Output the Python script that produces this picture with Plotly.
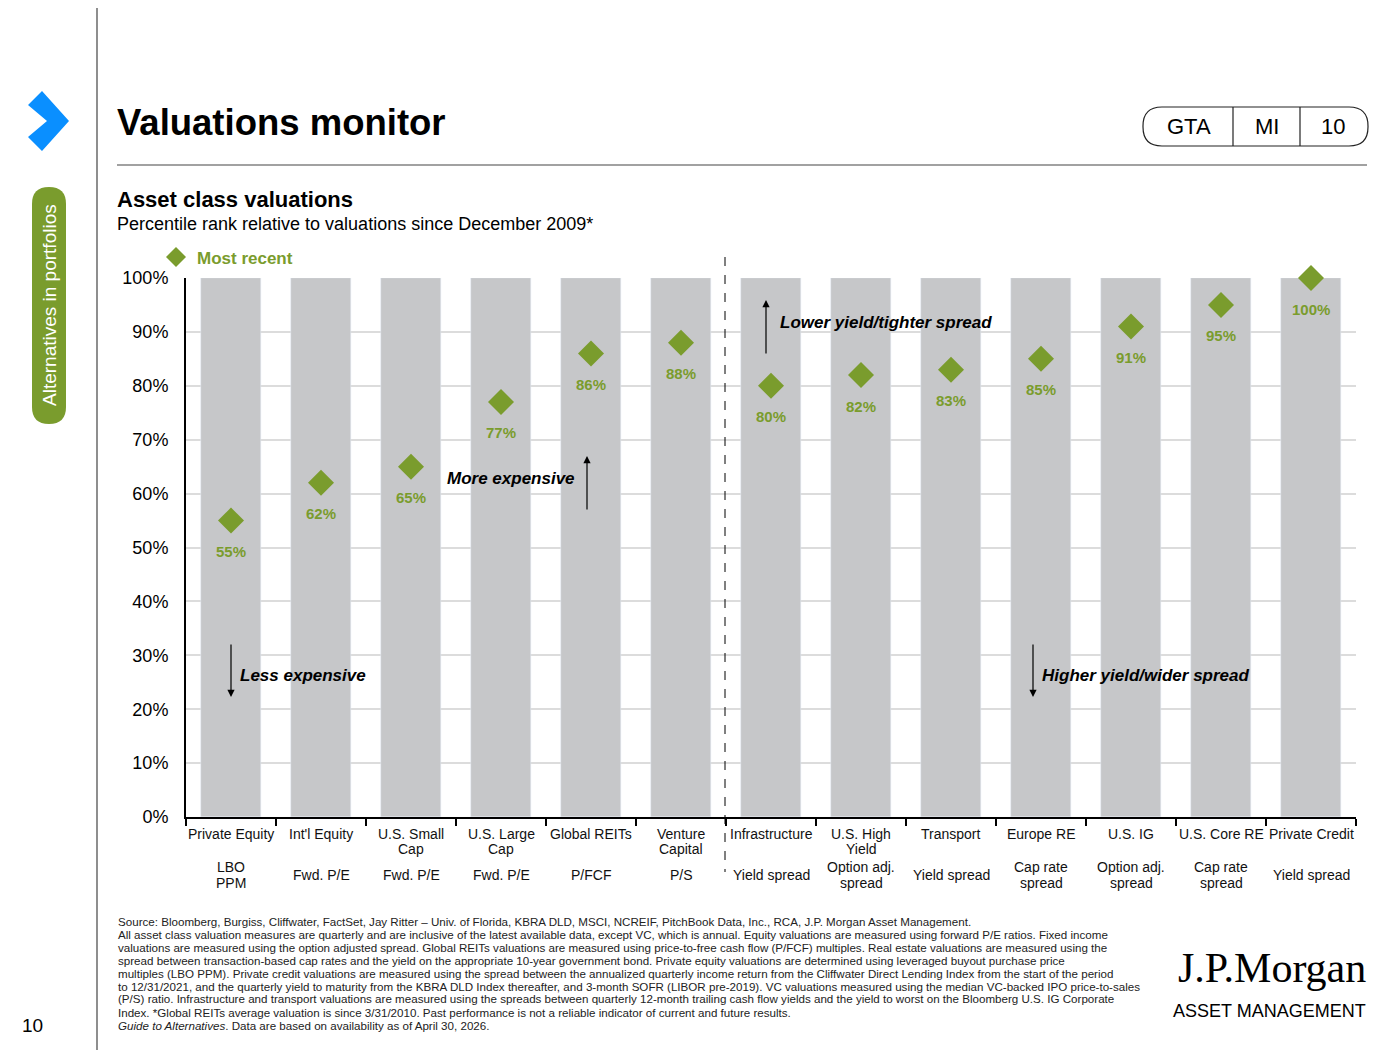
import plotly.graph_objects as go

categories = ["Private Equity", "Int'l Equity", "U.S. Small<br>Cap", "U.S. Large<br>Cap", "Global REITs",
              "Venture<br>Capital", "Infrastructure", "U.S. High<br>Yield", "Transport", "Europe RE",
              "U.S. IG", "U.S. Core RE", "Private Credit"]
measures = ["LBO<br>PPM", "Fwd. P/E", "Fwd. P/E", "Fwd. P/E", "P/FCF", "P/S", "Yield spread",
            "Option adj.<br>spread", "Yield spread", "Cap rate<br>spread", "Option adj.<br>spread",
            "Cap rate<br>spread", "Yield spread"]
most_recent = [55, 62, 65, 77, 86, 88, 80, 82, 83, 85, 91, 95, 100]
y_ticks = [0, 10, 20, 30, 40, 50, 60, 70, 80, 90, 100]

GREEN = "#7a9c2d"
GRAY = "#c6c7c9"
FONT = "Liberation Sans, Arial, sans-serif"

# pixel -> paper helpers (plot area 186..1356 x, 278..817 y on screen)
def px(x):
    return (x - 186) / 1170

def py(y):
    return (817 - y) / 539

x = list(range(len(categories)))
fig = go.Figure()
fig.add_trace(go.Bar(x=x, y=[100] * len(x), marker_color=GRAY, width=60 / 90, hoverinfo="skip"))
fig.add_trace(go.Scatter(
    x=x, y=most_recent, mode="markers",
    marker=dict(symbol="diamond", size=20, color=GREEN), cliponaxis=False))

annotations = []
shapes = []

def line_txt(i, text, ycen):
    annotations.append(dict(x=i, y=py(ycen), xref="x", yref="paper", text=text, showarrow=False,
                            yanchor="middle", font=dict(size=14, color="#111")))

for i, (c, m, v) in enumerate(zip(categories, measures, most_recent)):
    annotations.append(dict(x=i, y=v, yref="y", xref="x", text=f"<b>{v}%</b>", showarrow=False,
                            yshift=-31, font=dict(size=15, color=GREEN)))
    for k, part in enumerate(c.split("<br>")):
        line_txt(i, part, 834 + 15 * k)
    parts = m.split("<br>")
    if len(parts) == 1:
        line_txt(i, parts[0], 875)
    else:
        line_txt(i, parts[0], 867)
        line_txt(i, parts[1], 883)

# directional arrows
def arrow(xh, yh, xt, yt):
    annotations.append(dict(x=px(xh), y=py(yh), ax=xt - xh, ay=yt - yh, xref="paper", yref="paper",
                            axref="pixel", ayref="pixel", text="", showarrow=True, arrowhead=2,
                            arrowsize=1.2, arrowwidth=1.2, arrowcolor="black"))

arrow(231, 697, 231, 643)
arrow(587, 456, 587, 511)
arrow(766, 300, 766, 355)
arrow(1033, 697, 1033, 643)

def itxt(text, x0, y0):
    annotations.append(dict(x=px(x0), y=py(y0), xref="paper", yref="paper", text=f"<b><i>{text}</i></b>",
                            showarrow=False, xanchor="left", font=dict(size=17, color="black")))

itxt("Less expensive", 238, 687)
itxt("More expensive", 445, 478)
itxt("Lower yield/tighter spread", 778, 311)
itxt("Higher yield/wider spread", 1040, 687)

shapes.append(dict(type="line", xref="paper", yref="paper", x0=px(725), x1=px(725), y0=py(257), y1=py(872),
                   line=dict(color="black", width=1, dash="dash")))

# page chrome
def ptxt(text, x0, y0, size, color="black", xanchor="left", yanchor="middle", family=FONT, **kw):
    annotations.append(dict(x=px(x0), y=py(y0), xref="paper", yref="paper", text=text, showarrow=False,
                            xanchor=xanchor, yanchor=yanchor, font=dict(size=size, color=color, family=family), **kw))

def poly(xs, ys, color):
    p = "M " + " L ".join(f"{px(a)},{py(b)}" for a, b in zip(xs, ys)) + " Z"
    shapes.append(dict(type="path", xref="paper", yref="paper", path=p, fillcolor=color, line_width=0))

ptxt("<b>Valuations monitor</b>", 115, 122, 36.5)
ptxt("<b>Asset class valuations</b>", 115, 199, 22)
ptxt("Percentile rank relative to valuations since December 2009*", 115, 224, 18)
ptxt("<b>Most recent</b>", 195, 258, 17, color=GREEN)
poly([166, 176, 186, 176], [257, 247, 257, 267], GREEN)
shapes.append(dict(type="line", xref="paper", yref="paper", x0=px(117), x1=px(1367), y0=py(165), y1=py(165),
                   line=dict(color="#444", width=1.2)))
shapes.append(dict(type="line", xref="paper", yref="paper", x0=px(97), x1=px(97), y0=py(0), y1=py(1050),
                   line=dict(color="#444", width=1.2)))

# blue chevron
poly([28, 42, 69, 42, 28, 47], [105, 91, 121, 151, 137, 121], "#0a8fff")

# rounded rectangle path in pixel coords
def rrect(x0, y0, x1, y1, r):
    pts = [(x0 + r, y0), (x1 - r, y0), (x1, y0 + r), (x1, y1 - r), (x1 - r, y1), (x0 + r, y1), (x0, y1 - r), (x0, y0 + r)]
    p = f"M {px(pts[0][0])},{py(pts[0][1])} L {px(pts[1][0])},{py(pts[1][1])} "
    p += f"Q {px(x1)},{py(y0)} {px(pts[2][0])},{py(pts[2][1])} L {px(pts[3][0])},{py(pts[3][1])} "
    p += f"Q {px(x1)},{py(y1)} {px(pts[4][0])},{py(pts[4][1])} L {px(pts[5][0])},{py(pts[5][1])} "
    p += f"Q {px(x0)},{py(y1)} {px(pts[6][0])},{py(pts[6][1])} L {px(pts[7][0])},{py(pts[7][1])} "
    p += f"Q {px(x0)},{py(y0)} {px(pts[0][0])},{py(pts[0][1])} Z"
    return p

shapes.append(dict(type="path", xref="paper", yref="paper", path=rrect(32, 187, 66, 424, 17),
                   fillcolor="#7a9c2d", line_width=0))
ptxt("Alternatives in portfolios", 49, 305, 19, color="white", xanchor="center", textangle=-90)

# GTA / MI / 10 box
shapes.append(dict(type="path", xref="paper", yref="paper", path=rrect(1143, 107, 1368, 146, 19),
                   fillcolor="rgba(0,0,0,0)", line=dict(color="#222", width=1.2)))
for xl in (1233, 1300):
    shapes.append(dict(type="line", xref="paper", yref="paper", x0=px(xl), x1=px(xl), y0=py(107), y1=py(146),
                       line=dict(color="#222", width=1.2)))
ptxt("GTA", 1189, 127, 22, xanchor="center")
ptxt("MI", 1267, 127, 22, xanchor="center")
ptxt("10", 1333, 127, 22, xanchor="center")

ptxt("10", 32, 1025, 19, xanchor="center")
ptxt("J.P.Morgan", 1368, 968, 42, xanchor="right", family="Liberation Serif, serif")
ptxt("ASSET MANAGEMENT", 1368, 1011, 18, xanchor="right")

footnote_lines = [
    "Source: Bloomberg, Burgiss, Cliffwater, FactSet, Jay Ritter – Univ. of Florida, KBRA DLD, MSCI, NCREIF, PitchBook Data, Inc., RCA, J.P. Morgan Asset Management.",
    "All asset class valuation measures are quarterly and are inclusive of the latest available data, except VC, which is annual. Equity valuations are measured using forward P/E ratios. Fixed income",
    "valuations are measured using the option adjusted spread. Global REITs valuations are measured using price-to-free cash flow (P/FCF) multiples. Real estate valuations are measured using the",
    "spread between transaction-based cap rates and the yield on the appropriate 10-year government bond. Private equity valuations are determined using leveraged buyout purchase price",
    "multiples (LBO PPM). Private credit valuations are measured using the spread between the annualized quarterly income return from the Cliffwater Direct Lending Index from the start of the period",
    "to 12/31/2021, and the quarterly yield to maturity from the KBRA DLD Index thereafter, and 3-month SOFR (LIBOR pre-2019). VC valuations measured using the median VC-backed IPO price-to-sales",
    "(P/S) ratio. Infrastructure and transport valuations are measured using the spreads between quarterly 12-month trailing cash flow yields and the yield to worst on the Bloomberg U.S. IG Corporate",
    "Index. *Global REITs average valuation is since 3/31/2010. Past performance is not a reliable indicator of current and future results.",
    "<i>Guide to Alternatives</i>. Data are based on availability as of April 30, 2026.",
]
for k, ln in enumerate(footnote_lines):
    ptxt(ln, 116, 921 + 13 * k, 11.6, color="#222")

fig.update_layout(
    width=1400, height=1050, margin=dict(l=178, r=52, t=270, b=241),
    paper_bgcolor="white", plot_bgcolor="white", showlegend=False,
    font=dict(family=FONT, color="black"),
    xaxis=dict(range=[-0.5, 12.5], tickmode="array", tickvals=[i - 0.5 for i in range(14)],
               showticklabels=False, ticks="outside", ticklen=7, tickcolor="black", tickwidth=1.5,
               showline=True, linecolor="black", linewidth=2, showgrid=False, fixedrange=True),
    yaxis=dict(range=[0, 100], tickmode="array", tickvals=y_ticks, ticktext=[f"{t}%" for t in y_ticks],
               tickfont=dict(size=18), showline=True, linecolor="black", linewidth=2,
               gridcolor="#dcdcdc", gridwidth=1.5, ticks="", ticklabelstandoff=12, zeroline=False),
    bargap=0, annotations=annotations, shapes=shapes,
)
fig.write_html("out.html")
